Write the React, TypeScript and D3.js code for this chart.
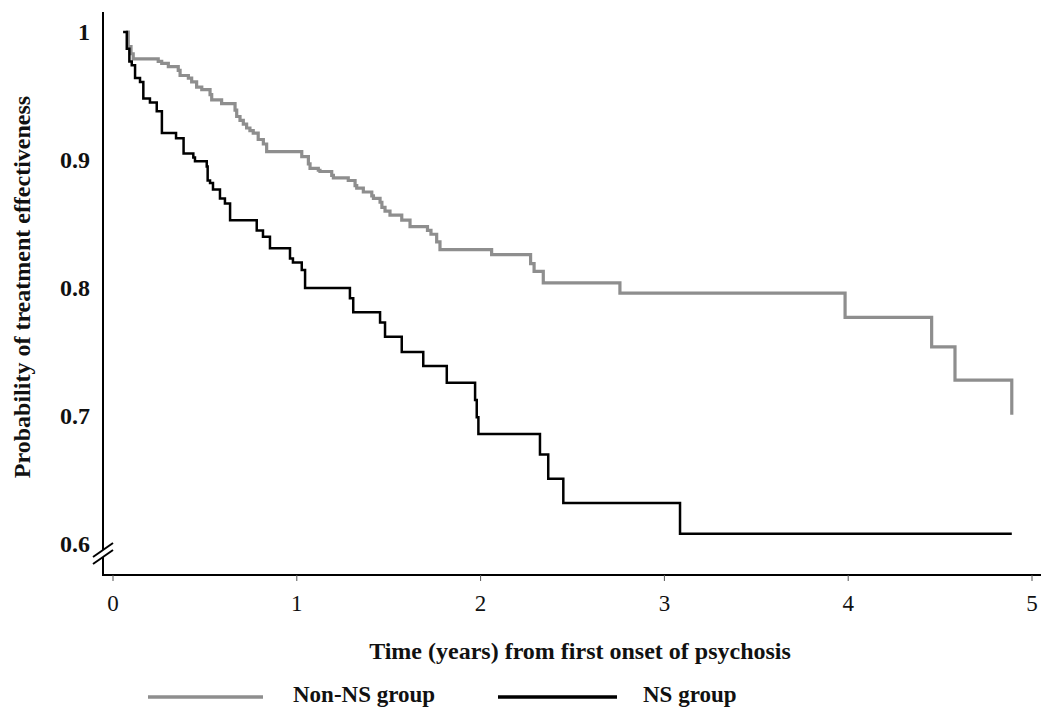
import React from "react";
import * as d3 from "d3";

// Non-NS group (gray) Kaplan-Meier steps: time (years), survival after step
const nonNsTimes = [0.07, 0.083, 0.098, 0.110, 0.246, 0.265, 0.301, 0.355, 0.365, 0.410, 0.428, 0.455, 0.483, 0.528, 0.537, 0.591, 0.664, 0.673, 0.691, 0.709, 0.727, 0.745, 0.763, 0.790, 0.818, 0.836, 1.027, 1.063, 1.072, 1.117, 1.126, 1.190, 1.199, 1.280, 1.317, 1.326, 1.362, 1.408, 1.417, 1.453, 1.463, 1.480, 1.507, 1.571, 1.616, 1.711, 1.730, 1.761, 1.779, 2.060, 2.272, 2.291, 2.341, 2.758, 3.983, 4.454, 4.581, 4.890];
const nonNsValues = [1, 0.9885, 0.983, 0.979, 0.977, 0.9755, 0.973, 0.970, 0.966, 0.964, 0.961, 0.957, 0.955, 0.951, 0.947, 0.944, 0.939, 0.934, 0.931, 0.928, 0.925, 0.923, 0.921, 0.916, 0.9125, 0.9065, 0.9026, 0.897, 0.8935, 0.892, 0.891, 0.888, 0.886, 0.884, 0.880, 0.878, 0.875, 0.872, 0.870, 0.867, 0.863, 0.860, 0.857, 0.853, 0.848, 0.845, 0.842, 0.836, 0.830, 0.826, 0.819, 0.813, 0.804, 0.796, 0.777, 0.754, 0.728, 0.701];

// NS group (black)
const nsTimes = [0.055, 0.075, 0.089, 0.102, 0.120, 0.147, 0.165, 0.201, 0.238, 0.266, 0.343, 0.384, 0.437, 0.446, 0.510, 0.515, 0.528, 0.544, 0.582, 0.609, 0.637, 0.782, 0.816, 0.854, 0.963, 0.979, 1.027, 1.045, 1.289, 1.307, 1.453, 1.480, 1.571, 1.688, 1.816, 1.970, 1.979, 1.988, 2.323, 2.368, 2.450, 3.085, 4.89];
const nsValues = [1, 0.987, 0.977, 0.974, 0.964, 0.961, 0.948, 0.945, 0.938, 0.921, 0.917, 0.905, 0.902, 0.899, 0.895, 0.884, 0.882, 0.877, 0.870, 0.866, 0.853, 0.845, 0.840, 0.831, 0.823, 0.820, 0.814, 0.800, 0.792, 0.781, 0.773, 0.762, 0.750, 0.739, 0.726, 0.7125, 0.699, 0.686, 0.670, 0.651, 0.632, 0.608, 0.608];

const xTicks = [0, 1, 2, 3, 4, 5];
const yTicks = [0.6, 0.7, 0.8, 0.9, 1];
const yTickLabels = ["0.6", "0.7", "0.8", "0.9", "1"];

const seriesNames = ["Non-NS group", "NS group"];
const xTitle = "Time (years) from first onset of psychosis";
const yTitle = "Probability of treatment effectiveness";

const GRAY = "#8e8e8e";
const FONT = "'Liberation Serif', 'Times New Roman', serif";

export default function App() {
  const W = 1041, H = 711;
  const x = d3.scaleLinear().domain([0, 5]).range([113, 1032]);
  const y = d3.scaleLinear().domain([0.6, 1]).range([544, 32]);
  const line = d3
    .line<[number, number]>()
    .x((d) => x(d[0]))
    .y((d) => y(d[1]))
    .curve(d3.curveStepAfter);

  const nonNs: [number, number][] = nonNsTimes.map((t, i) => [t, nonNsValues[i]]);
  const ns: [number, number][] = nsTimes.map((t, i) => [t, nsValues[i]]);

  const axisX = 103;
  const axisY = 575;

  return (
    <svg
      width={W}
      height={H}
      style={{ position: "absolute", left: 0, top: 0, background: "#fff" }}
      fontFamily={FONT}
    >
      <rect x={0} y={0} width={W} height={H} fill="#fff" />
      {/* y axis with break */}
      <line x1={axisX} y1={12} x2={axisX} y2={550} stroke="#000" strokeWidth={2} />
      <line x1={axisX} y1={557} x2={axisX} y2={axisY} stroke="#000" strokeWidth={2} />
      <line x1={93} y1={557} x2={113} y2={543} stroke="#000" strokeWidth={2} />
      <line x1={93} y1={564} x2={113} y2={550} stroke="#000" strokeWidth={2} />
      {/* x axis */}
      <line x1={axisX - 1} y1={axisY} x2={W} y2={axisY} stroke="#000" strokeWidth={2} />
      {xTicks.map((t) => (
        <g key={t}>
          <line x1={x(t)} y1={axisY} x2={x(t)} y2={axisY + 6} stroke="#555" strokeWidth={1} />
          <text x={x(t)} y={611} textAnchor="middle" fontSize={23} fill="#111">
            {t}
          </text>
        </g>
      ))}
      {yTicks.map((v, i) => (
        <text
          key={v}
          x={90}
          y={y(v) + 8}
          textAnchor="end"
          fontSize={24}
          fontWeight="bold"
          fill="#111"
        >
          {yTickLabels[i]}
        </text>
      ))}
      {/* titles */}
      <text x={580} y={659} textAnchor="middle" fontSize={24} fontWeight="bold" fill="#111">
        {xTitle}
      </text>
      <text
        transform={`translate(30,287) rotate(-90)`}
        textAnchor="middle"
        fontSize={24}
        fontWeight="bold"
        fill="#111"
      >
        {yTitle}
      </text>
      {/* curves */}
      <path d={line(nonNs) || ""} fill="none" stroke={GRAY} strokeWidth={3.2} />
      <path d={line(ns) || ""} fill="none" stroke="#000" strokeWidth={2.5} />
      {/* legend */}
      <line x1={148} y1={697} x2={263} y2={697} stroke={GRAY} strokeWidth={3.5} />
      <text x={293} y={702} fontSize={23} fontWeight="bold" fill="#111">
        {seriesNames[0]}
      </text>
      <line x1={498} y1={697} x2={617} y2={697} stroke="#000" strokeWidth={3.5} />
      <text x={643} y={702} fontSize={23} fontWeight="bold" fill="#111">
        {seriesNames[1]}
      </text>
    </svg>
  );
}
